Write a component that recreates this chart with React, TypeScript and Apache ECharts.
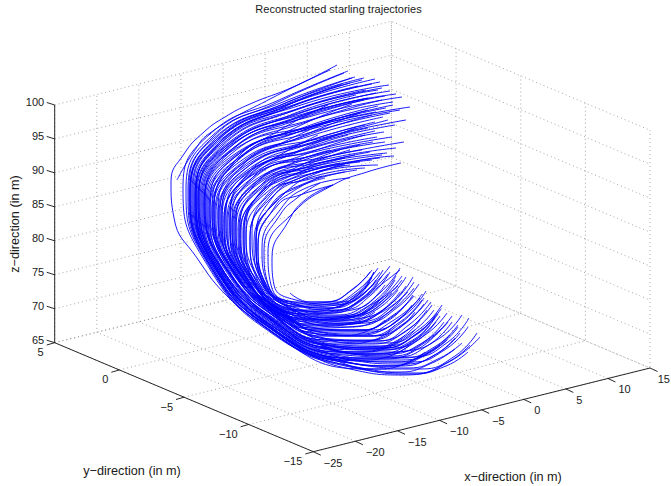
import React, { useEffect, useRef } from "react";
import * as echarts from "echarts";

const xTicks = [-25, -20, -15, -10, -5, 0, 5, 10, 15];
const yTicks = [-15, -10, -5, 0, 5];
const zTicks = [65, 70, 75, 80, 85, 90, 95, 100];
const titleText = "Reconstructed starling trajectories";
const xName = "x\u2212direction (in m)";
const yName = "y\u2212direction (in m)";
const zName = "z\u2212direction (in m)";

const trajectories: number[][] = [
  [337,65,293,87,250,104,225,117,204,132,184,154,171,182,174,218,197,258,229,298,270,332,310,355,350,369,403,375,447,363,480,337],
  [348,71,279,100,210,134,183,187,203,258,271,331,366,369,421,369,455,356,477,333],
  [355,77,283,102,212,136,186,190,205,259,271,331,362,368,418,373,450,361,470,345],
  [344,73,278,102,213,137,188,191,206,259,273,330,358,361,412,362,446,349,468,327],
  [375,79,292,103,214,138,189,191,207,260,270,331,358,368,412,374,446,366,468,352],
  [352,78,281,105,215,139,190,192,208,260,273,329,358,358,414,357,448,342,469,318],
  [380,82,296,104,216,140,191,193,209,261,272,330,355,364,408,368,440,358,462,343],
  [362,80,287,104,217,141,192,194,210,261,274,329,350,360,405,364,438,353,460,333],
  [389,85,301,105,218,142,193,195,211,261,273,330,350,363,400,366,433,356,455,338],
  [372,84,293,106,219,143,194,196,212,262,275,328,352,354,406,351,440,338,462,315],
  [358,86,287,108,220,144,195,197,212,262,275,328,348,358,402,358,436,346,458,325],
  [382,88,299,109,221,145,195,198,213,263,271,331,350,367,400,372,432,363,455,349],
  [366,90,292,111,222,146,196,199,213,263,275,328,345,358,396,362,428,352,450,335],
  [390,91,305,111,223,147,197,199,214,264,276,327,344,355,396,357,430,344,452,322],
  [376,93,298,114,224,148,198,200,215,264,274,329,342,361,392,366,424,356,447,340],
  [402,97,312,116,225,149,199,201,216,265,278,326,335,352,388,354,422,343,444,322],
  [385,96,304,116,226,150,200,202,217,265,274,329,340,360,388,366,418,358,440,345],
  [370,98,297,117,227,150,201,203,218,266,279,325,338,348,392,348,425,335,447,313],
  [393,102,310,120,228,152,202,204,219,266,277,327,335,355,385,359,418,349,440,330],
  [410,107,318,125,229,153,203,205,220,267,279,325,332,350,381,355,414,343,436,322],
  [382,100,306,122,231,154,204,206,221,267,279,325,330,349,380,350,413,340,435,318],
  [400,110,315,128,232,156,205,206,222,268,273,330,335,360,375,369,405,364,425,352],
  [393,105,312,126,233,157,206,207,224,268,280,324,330,345,382,348,415,335,437,313],
  [378,106,305,127,234,158,207,208,225,268,281,323,334,342,388,343,421,328,442,305],
  [390,113,312,132,236,160,208,209,226,269,283,322,325,340,377,341,410,328,432,305],
  [368,110,301,131,237,161,209,210,227,269,280,325,325,348,375,354,408,345,430,325],
  [383,117,310,136,238,163,210,211,228,270,284,321,320,338,372,344,405,332,427,310],
  [372,115,305,136,240,164,212,212,229,270,278,326,325,352,362,360,390,356,410,345],
  [360,113,300,137,241,165,213,213,231,271,286,320,320,334,373,336,406,322,428,300],
  [375,122,308,141,242,167,215,214,232,271,283,322,318,342,365,349,398,340,420,320],
  [388,120,316,141,243,168,216,215,233,271,282,323,318,344,362,352,394,345,415,330],
  [365,125,303,143,245,169,218,216,234,272,288,318,318,330,372,330,405,315,426,291],
  [375,131,310,148,246,171,219,217,235,272,285,321,312,335,360,341,393,332,415,312],
  [392,137,318,151,247,172,221,218,236,272,283,322,315,342,354,352,384,348,405,335],
  [377,137,312,151,248,173,222,219,237,273,287,319,310,330,357,335,390,326,412,305],
  [356,128,300,150,250,175,224,220,238,273,288,318,310,328,360,330,392,317,413,295],
  [404,142,325,157,251,176,225,221,239,273,308,335,344,344,374,340,395,325],
  [373,142,310,156,252,178,227,222,240,274,290,317,312,325,366,323,398,307,419,284],
  [365,135,306,154,253,179,228,223,241,274,289,318,306,326,354,331,386,322,408,302],
  [387,153,318,163,255,180,230,225,243,275,310,322,362,318,393,302,413,277],
  [360,145,304,160,256,182,232,226,244,275,304,322,348,327,380,318,402,298],
  [382,155,316,166,257,183,233,227,245,276,304,328,338,336,365,332,385,320],
  [380,158,315,168,258,184,235,228,246,276,306,319,355,316,386,300,406,277],
  [370,152,311,166,260,186,236,229,248,277,302,317,345,321,376,310,398,290],
  [355,155,303,168,261,187,238,230,249,277,303,318,347,323,378,313,400,292],
  [372,160,312,170,262,188,239,231,250,277,306,314,352,310,381,292,400,268],
  [350,150,300,168,264,190,241,232,251,278,300,315,340,320,370,312,392,293],
  [345,158,300,172,265,191,243,233,252,278,303,316,345,317,375,303,395,280],
  [357,170,306,180,266,193,244,234,253,279,298,312,336,318,366,312,388,295],
  [340,163,297,176,268,194,246,236,255,279,302,311,343,310,371,295,390,272],
  [365,168,312,177,271,198,250,239,258,281,298,318,330,325,355,322,375,312],
  [345,172,303,184,275,202,254,242,262,282,300,307,338,305,365,292,383,270],
  [333,185,300,195,278,205,258,245,265,283,298,310,336,315,364,306,385,285],
  [401,163,367,172,333,185,293,213,268,252,271,285,298,306,335,310,362,298,382,276],
  [333,185,305,200,288,222,272,258,274,285,296,300,328,304,356,294,374,272],
  [320,183,297,198,280,215,264,250,268,284,296,308,332,313,358,303,378,283],
  [364,78,288,102,216,140,190,192,209,264,275,331,348,360,402,360,436,348,458,327],
  [350,83,285,106,217,141,190,193,212,264,276,328,342,352,396,352,430,338,452,316],
  [378,90,300,108,222,142,196,195,216,263,279,326,336,347,388,346,420,331,441,309],
  [396,94,310,112,226,146,199,196,219,264,280,325,333,346,384,348,416,335,438,314],
  [364,100,297,120,231,150,205,200,224,265,283,323,326,340,378,341,410,324,431,302],
  [386,108,312,126,236,156,210,205,229,266,285,321,320,332,370,332,400,318,422,294],
  [406,120,326,137,245,162,218,210,236,268,290,318,316,326,364,322,394,305,414,282],
  [352,104,295,128,238,160,214,208,232,268,287,320,322,336,372,336,402,322,424,298],
  [368,128,306,145,250,170,226,214,240,270,310,324,356,322,386,308,406,286],
  [384,132,316,147,252,172,230,216,243,271,306,320,352,316,380,302,402,280],
  [348,135,298,152,254,176,232,220,246,272,304,318,345,316,376,300,396,276],
  [396,148,322,160,258,180,236,224,250,274,300,314,340,310,368,294,388,274],
  [362,150,306,163,262,184,240,228,254,276,302,312,345,304,370,288,390,266],
  [340,150,295,168,264,188,246,230,258,278,298,310,332,308,360,292,380,272],
  [378,165,318,172,270,194,252,234,262,280,296,306,330,304,358,290,378,268],
  [350,165,302,177,272,198,256,238,264,282,296,304,328,302,354,288,372,270],
  [325,178,296,188,272,204,256,244,264,284,294,302,326,302,352,290,370,272],
  [312,168,282,180,258,195,240,235,252,278,300,314,340,316,372,304,398,286],
  [330,150,288,165,252,188,234,226,248,275,304,320,348,324,382,312,408,292],
  [318,135,280,155,244,178,224,220,240,272,310,330,360,334,394,320,420,298],
  [342,84,282,108,218,144,196,196,216,266,278,327,340,352,392,356,426,342,448,322],
  [368,98,296,118,228,154,204,204,226,268,283,323,328,344,380,346,412,332,434,310],
  [356,95,288,116,224,150,198,200,220,266,281,324,330,346,384,350,418,338,440,316],
  [376,112,304,130,236,160,212,208,231,268,286,320,318,334,368,336,400,322,422,300],
  [395,125,318,142,246,168,222,214,238,270,290,318,312,328,360,326,392,310,414,288],
  [338,118,288,140,240,168,220,216,238,272,291,317,314,330,362,330,392,316,414,296],
  [328,105,280,130,234,162,214,212,232,270,288,319,320,338,370,340,402,326,424,304],
  [385,142,316,155,250,176,230,222,244,274,296,313,308,320,350,318,380,300,402,276],
  [360,162,306,172,264,190,244,232,254,277,298,310,330,312,358,302,382,284,400,270],
  [330,70,272,98,210,133,193,153,177,180],
  [290,293,310,302,337,302,358,295,374,272],
  [345,165,300,178,270,196,250,238,260,281,296,311,330,320,358,315,380,300],
  [322,176,292,192,274,208,258,246,266,284,296,305,330,308,356,300,376,280],
  [394,156,325,170,276,202,256,240,262,282,294,302,328,305,354,298,372,277],
  [350,178,306,188,280,210,262,248,268,285,293,303,326,308,352,301,370,282],
];

// picture-plane projection of the 3-D box (MATLAB default view)
const project = (x: number, y: number, z: number): [number, number] => [
  313.3 + ((x + 25) / 5) * 42.09 - ((y + 15) / 5) * 64.65,
  451.7 - ((x + 25) / 5) * 10.46 - ((y + 15) / 5) * 27.25 - ((z - 65) / 5) * 33.96,
];

const pairs = (a: number[]) => {
  const out: number[][] = [];
  for (let i = 0; i < a.length; i += 2) out.push([a[i], a[i + 1]]);
  return out;
};

export default function App() {
  const ref = useRef<HTMLDivElement>(null);
  useEffect(() => {
    const chart = echarts.init(ref.current!, undefined, { renderer: "svg" });
    const series: any[] = [];
    const poly = (pts: number[][], color: string, width: number, type: any) =>
      series.push({
        type: "line", data: pts, showSymbol: false, silent: true, clip: false,
        lineStyle: { color, width, type }, z: 1,
      });
    const dot = [1, 3];
    const gray = "#8f8f8f";
    for (const x of xTicks)
      poly([project(x, -15, 65), project(x, 5, 65), project(x, 5, 100)], gray, 0.8, dot);
    for (const y of yTicks)
      poly([project(-25, y, 65), project(15, y, 65), project(15, y, 100)], gray, 0.8, dot);
    for (const z of zTicks)
      poly([project(-25, 5, z), project(15, 5, z), project(15, -15, z)], gray, 0.8, dot);
    const ink = "#111111";
    poly([project(-25, 5, 65), project(-25, 5, 100)], ink, 0.9, "solid");
    poly([project(-25, 5, 65), project(-25, -15, 65)], ink, 0.9, "solid");
    poly([project(-25, -15, 65), project(15, -15, 65)], ink, 0.9, "solid");
    const graphic: any[] = [];
    const text = (s: string, x: number, y: number, align: string, size: number, extra: any = {}) =>
      graphic.push({
        type: "text", x, y, ...extra,
        style: {
          text: s, fill: "#1a1a1a", font: `${size}px 'Liberation Sans'`,
          textAlign: align, textVerticalAlign: "middle",
        },
      });
    const lab = (v: number) => (v < 0 ? "\u2212" + Math.abs(v) : String(v));
    for (const z of zTicks) {
      const p = project(-25, 5, z);
      poly([p, [p[0] - 8, p[1] - 2.5]], ink, 0.9, "solid");
      text(lab(z), p[0] - 10.5, p[1] - 3, "right", 11);
    }
    for (const y of yTicks) {
      const p = project(-25, y, 65);
      poly([p, [p[0] - 8, p[1] + 2.3]], ink, 0.9, "solid");
      text(lab(y), p[0] - 11, p[1] + 9.5, "right", 11);
    }
    for (const x of xTicks) {
      const p = project(x, -15, 65);
      poly([p, [p[0] + 7.5, p[1] + 3.5]], ink, 0.9, "solid");
      text(lab(x), x === 15 ? 670 : p[0] + 10.5, p[1] + 11, x === 15 ? "right" : "left", 11);
    }
    text(xName, 513, 477, "center", 12.7);
    text(yName, 132, 471, "center", 12.7);
    text(zName, 15, 224, "center", 12.7, { rotation: Math.PI / 2 });
    for (const t of trajectories)
      series.push({
        type: "line", data: pairs(t), smooth: 0.5, showSymbol: false, silent: true,
        clip: false, lineStyle: { color: "#0000ff", width: 0.9 }, z: 3,
      });
    chart.setOption({
      animation: false,
      backgroundColor: "#ffffff",
      title: {
        text: titleText, left: 338.5, top: 3, padding: 0, textAlign: "center",
        textStyle: { fontFamily: "Liberation Sans", fontSize: 11, fontWeight: "normal", color: "#1a1a1a" },
      },
      grid: { left: 0, right: 0, top: 0, bottom: 0 },
      xAxis: { type: "value", min: 0, max: 671, show: false },
      yAxis: { type: "value", min: 0, max: 486, inverse: true, show: false },
      graphic,
      series,
    });
    return () => chart.dispose();
  }, []);
  return <div ref={ref} style={{ position: "absolute", left: 0, top: 0, width: 671, height: 486 }} />;
}
